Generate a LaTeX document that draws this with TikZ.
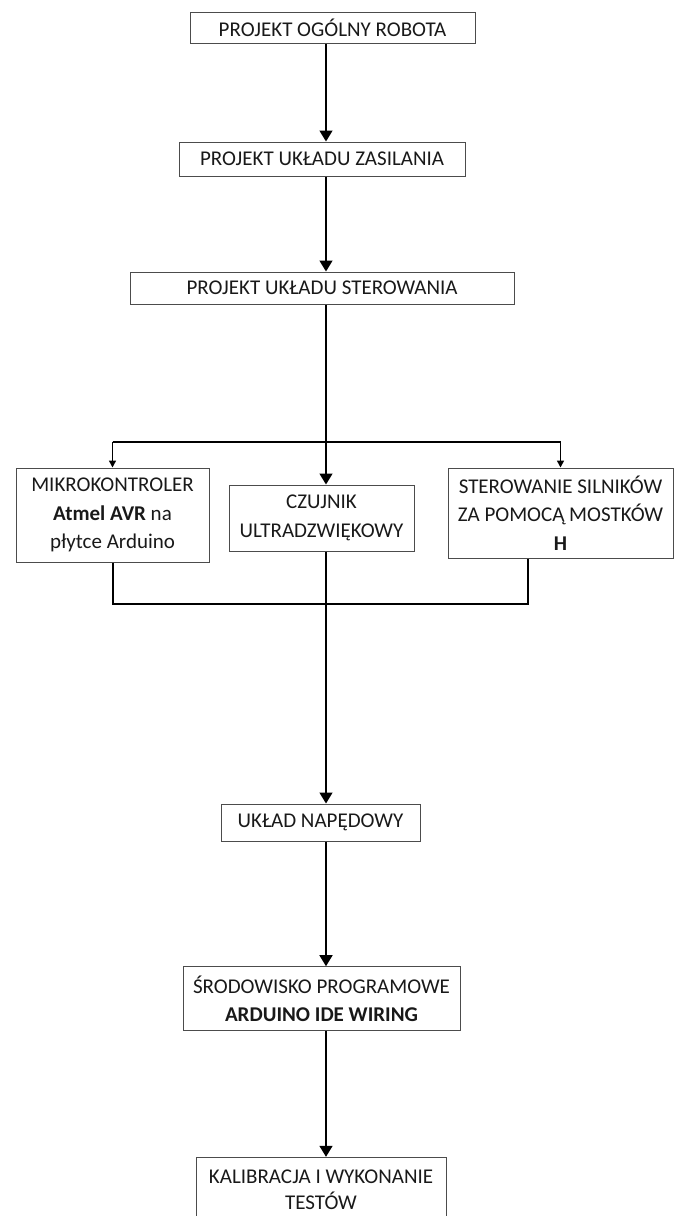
\documentclass[tikz,border=0pt]{standalone}
\usepackage{fontspec}
\setmainfont{Carlito}
\usetikzlibrary{arrows.meta}

\begin{document}
\begin{tikzpicture}[x=0.5pt,y=-0.5pt,>={Triangle[length=5.5pt,width=6.5pt]},
  font=\fontsize{10.5}{14.2}\selectfont]
\tikzset{box/.style={draw=black!70,line width=0.5pt,inner sep=0pt,align=center,text=black!90},
  link/.style={line width=0.75pt},
  bar/.style={line width=1pt},
  smallarrow/.style={-{Triangle[length=3.5pt,width=3.5pt]}}}

\clip (0,0) rectangle (675,1216);
\useasboundingbox (0,0) rectangle (675,1216);

% main column
\node[box,minimum width=142.5pt,minimum height=15.3pt] (ogolny) at (332.5,28) {PROJEKT OGÓLNY ROBOTA};
\node[box,minimum width=143pt,minimum height=17pt] (zasilanie) at (322,159) {PROJEKT UKŁADU ZASILANIA};
\node[box,minimum width=192pt,minimum height=16pt] (sterowanie) at (322,288) {PROJEKT UKŁADU STEROWANIA};

% three blocks
\node[box,minimum width=96.5pt,minimum height=47pt] (mikro) at (112.5,515) {MIKROKONTROLER\\\textbf{Atmel AVR} na\\płytce Arduino};
\node[box,minimum width=92.5pt,minimum height=33pt] (czujnik) at (321.5,518) {CZUJNIK\\ULTRADZWIĘKOWY};
\node[box,minimum width=112.5pt,minimum height=45pt] (mostki) at (560.5,513) {STEROWANIE SILNIKÓW\\ZA POMOCĄ MOSTKÓW\\\textbf{H}};

\node[box,minimum width=99.5pt,minimum height=18.5pt] (naped) at (320.5,822.5) {UKŁAD NAPĘDOWY};
\node[box,minimum width=138.5pt,minimum height=32pt] (srodowisko) at (321.5,998.7) {ŚRODOWISKO PROGRAMOWE\\\textbf{ARDUINO IDE WIRING}};
\node[box,minimum width=125pt,minimum height=32.2pt,font=\fontsize{10.5}{13}\selectfont] (kalibracja) at (321,1189.5) {KALIBRACJA I WYKONANIE\\TESTÓW};

\coordinate (axis) at (326,0);
\coordinate (fork) at (0,441.7);
\coordinate (join) at (528,604);

\draw[link,->] (ogolny.south -| axis) -- (zasilanie.north -| axis);
\draw[link,->] (zasilanie.south -| axis) -- (sterowanie.north -| axis);
\draw[link,->] (sterowanie.south -| axis) -- (czujnik.north -| axis);

% branches
\draw[bar] (mikro.north |- fork) -- (mostki.north |- fork);
\draw[link,smallarrow] (mikro.north |- fork) -- (mikro.north);
\draw[link,smallarrow] (mostki.north |- fork) -- (mostki.north);
\draw[bar] (mikro.south) |- (join) -- (mostki.south -| join);

\draw[link,->] (czujnik.south -| axis) -- (naped.north -| axis);
\draw[link,->] (naped.south -| axis) -- (srodowisko.north -| axis);
\draw[link,->] (srodowisko.south -| axis) -- (kalibracja.north -| axis);

\end{tikzpicture}
\end{document}
